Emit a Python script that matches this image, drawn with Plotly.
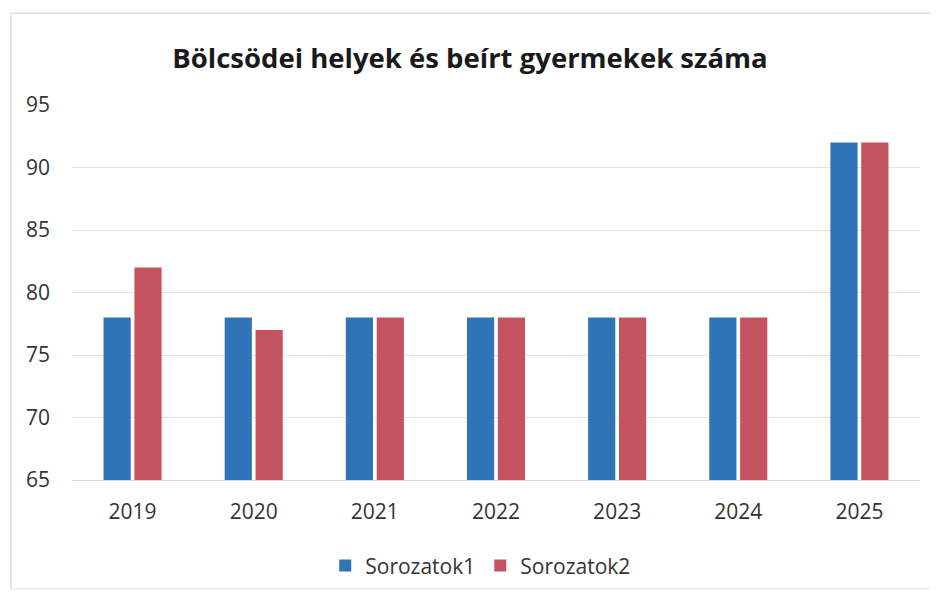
import plotly.graph_objects as go

years = ["2019", "2020", "2021", "2022", "2023", "2024", "2025"]
series1 = [78, 78, 78, 78, 78, 78, 92]
series2 = [82, 77, 78, 78, 78, 78, 92]
name1 = "Sorozatok1"
name2 = "Sorozatok2"
title = "Bölcsödei helyek és beírt gyermekek száma"

fig = go.Figure()
fig.add_trace(go.Bar(x=years, y=series1, name=name1, marker=dict(color="#2F73B8", line=dict(width=0))))
fig.add_trace(go.Bar(x=years, y=series2, name=name2, marker=dict(color="#C5525F", line=dict(width=0))))

border = dict(color="#dcdcdc", width=1.5)
fig.update_layout(
    width=924, height=582,
    margin=dict(l=64, r=12, t=97, b=110, autoexpand=False),
    paper_bgcolor="white", plot_bgcolor="white",
    barmode="group", bargap=0.49, bargroupgap=0.12,
    font=dict(family="Open Sans, sans-serif", color="#333333", size=21),
    title=dict(text="<b>" + title + "</b>", x=0.5, xanchor="center", y=0.914, yanchor="middle",
               font=dict(size=27.5, color="#1a1a1a", family="Open Sans, sans-serif")),
    legend=dict(orientation="h", x=0.482, xanchor="center", y=-0.229, yanchor="middle",
                font=dict(size=21, color="#333333"), itemwidth=30, traceorder="normal"),
    showlegend=True,
    shapes=[
        dict(type="line", xref="paper", yref="paper", x0=-0.072, x1=-0.072, y0=-0.29, y1=1.245, line=border),
        dict(type="line", xref="paper", yref="paper", x0=-0.072, x1=1.012, y0=1.245, y1=1.245, line=border),
        dict(type="line", xref="paper", yref="paper", x0=-0.072, x1=1.012, y0=-0.29, y1=-0.29,
             line=dict(color="#ececec", width=1.5)),
    ],
)
fig.update_yaxes(range=[65, 95], dtick=5, tick0=65, showgrid=True, gridcolor="#e3e3e3", gridwidth=1,
                 zeroline=False, showline=False, ticks="", tickfont=dict(size=21, color="#333333"),
                 ticklabelstandoff=21)
fig.update_xaxes(showgrid=False, showline=True, linecolor="#d9d9d9", ticks="",
                 tickfont=dict(size=21, color="#333333"), ticklabelstandoff=13)

fig.write_html("out.html")
